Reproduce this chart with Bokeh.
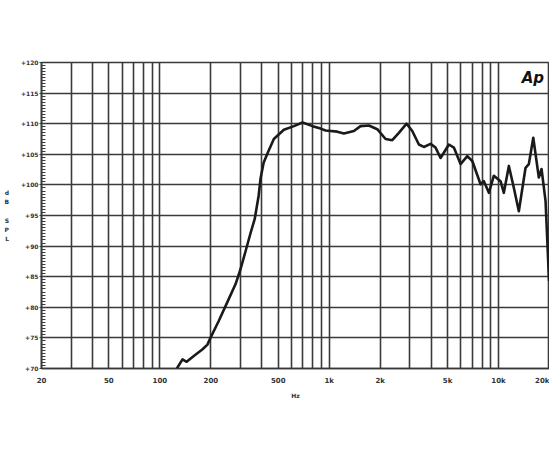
from bokeh.plotting import figure
from bokeh.models import FixedTicker, Label
from bokeh.embed import file_html
from bokeh.resources import INLINE

# Frequency response
freq_hz = [126, 136, 144, 158, 178, 191, 199, 223, 250, 280,
           300, 321, 343, 363, 383, 393, 410, 433, 471, 540,
           619, 696, 798, 890, 952, 1116, 1221, 1399, 1532, 1716,
           1923, 2153, 2358, 2579, 2864, 3095, 3385, 3623, 3969, 4248,
           4547, 5091, 5449, 5968, 6539, 6999, 7832, 8193, 8771, 9385,
           10280, 10750, 11510, 12320, 13180, 14440, 15100, 16040, 17300, 17950,
           18950, 19560, 19880]
spl_db = [70.0, 71.5, 71.1, 72.0, 73.1, 73.9, 75.0, 77.8, 80.8, 83.8,
          86.3, 89.2, 92.1, 94.4, 98.2, 101.0, 103.6, 105.2, 107.5, 109.0,
          109.6, 110.2, 109.6, 109.2, 108.9, 108.7, 108.4, 108.8, 109.6, 109.7,
          109.1, 107.5, 107.3, 108.5, 110.0, 108.8, 106.6, 106.2, 106.7, 106.1,
          104.4, 106.6, 106.1, 103.4, 104.7, 103.9, 100.1, 100.6, 98.7, 101.5,
          100.6, 98.7, 103.1, 99.5, 95.7, 102.8, 103.4, 107.7, 101.2, 102.6,
          97.4, 88.7, 84.3]

# Axis ticks and labels
x_grid = [20, 30, 40, 50, 60, 70, 80, 90,
          100, 200, 300, 400, 500, 600, 700, 800, 900,
          1000, 2000, 3000, 4000, 5000, 6000, 7000, 8000, 9000,
          10000, 20000]
x_tick_labels = {20: "20", 50: "50", 100: "100", 200: "200", 500: "500",
                 1000: "1k", 2000: "2k", 5000: "5k", 10000: "10k", 20000: "20k"}
y_ticks = [70, 75, 80, 85, 90, 95, 100, 105, 110, 115, 120]
y_tick_labels = ["+70", "+75", "+80", "+85", "+90", "+95",
                 "+100", "+105", "+110", "+115", "+120"]
y_title = "d\nB\n\nS\nP\nL"

GRID = "#3a3a3a"
TXT = "#333333"
FONT = "DejaVu Sans"

p = figure(width=549, height=448, x_axis_type="log",
           x_range=(20, 20000), y_range=(70, 120),
           output_backend="svg", toolbar_location=None,
           min_border_left=41, min_border_right=0,
           min_border_top=62, min_border_bottom=80)
p.background_fill_color = "white"
p.border_fill_color = "white"
p.outline_line_color = GRID
p.outline_line_width = 1.6

# x axis
p.xaxis.ticker = FixedTicker(ticks=x_grid, minor_ticks=[])
p.xaxis.major_label_overrides = {t: x_tick_labels.get(t, "") for t in x_grid}
p.xaxis.major_tick_line_color = None
p.xaxis.minor_tick_line_color = None
p.xaxis.axis_line_color = GRID
p.xaxis.axis_line_width = 1.6
p.xaxis.major_label_text_font = FONT
p.xaxis.major_label_text_font_size = "7px"
p.xaxis.major_label_text_font_style = "bold"
p.xaxis.major_label_text_color = TXT
p.xaxis.major_label_standoff = 2
p.xaxis.axis_label = "Hz"
p.xaxis.axis_label_text_font = FONT
p.xaxis.axis_label_text_font_size = "6px"
p.xaxis.axis_label_text_font_style = "bold"
p.xaxis.axis_label_text_color = TXT
p.xaxis.axis_label_standoff = 4

# y axis
p.yaxis.ticker = FixedTicker(ticks=y_ticks,
                             minor_ticks=[70 + 0.5 * i for i in range(101)])
p.yaxis.major_label_overrides = dict(zip(y_ticks, y_tick_labels))
p.yaxis.major_tick_in = 5
p.yaxis.major_tick_out = 2
p.yaxis.minor_tick_in = 4
p.yaxis.minor_tick_out = 0
p.yaxis.major_tick_line_color = GRID
p.yaxis.minor_tick_line_color = GRID
p.yaxis.axis_line_color = GRID
p.yaxis.axis_line_width = 1.6
p.yaxis.major_label_text_font = FONT
p.yaxis.major_label_text_font_size = "6px"
p.yaxis.major_label_text_font_style = "bold"
p.yaxis.major_label_text_color = TXT
p.yaxis.major_label_standoff = 1
p.yaxis.axis_label = y_title
p.yaxis.axis_label_orientation = "horizontal"
p.yaxis.axis_label_text_font = FONT
p.yaxis.axis_label_text_font_size = "6px"
p.yaxis.axis_label_text_font_style = "bold"
p.yaxis.axis_label_text_color = TXT
p.yaxis.axis_label_text_line_height = 1.3
p.yaxis.axis_label_standoff = 9

# grid
p.xgrid.ticker = FixedTicker(ticks=x_grid, minor_ticks=[])
p.ygrid.ticker = FixedTicker(ticks=y_ticks, minor_ticks=[])
p.xgrid.grid_line_color = GRID
p.ygrid.grid_line_color = GRID
p.xgrid.grid_line_width = 1.6
p.ygrid.grid_line_width = 1.6

# response curve
p.line(freq_hz, spl_db, line_color="#1a1a1a", line_width=2.6, line_join="round")

# "Ap" logo
p.add_layout(Label(x=13700, y=117.5, text="Ap", text_font=FONT,
                   text_font_size="15px", text_font_style="bold italic",
                   text_color="#111111", text_baseline="middle", text_align="left"))

open("out.html", "w").write(file_html(p, INLINE))
